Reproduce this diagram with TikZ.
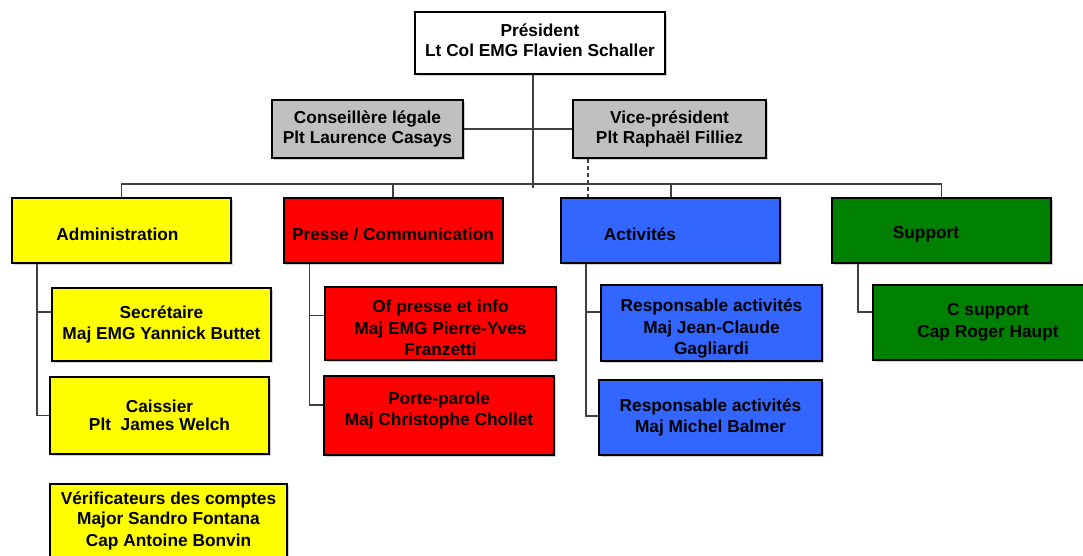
\documentclass[tikz,border=0pt]{standalone}
\usepackage{fontspec}
\setmainfont{Liberation Sans}
\usepackage{tikz}
\usetikzlibrary{shadows}

\definecolor{admincol}{HTML}{FFFF00}
\definecolor{pressecol}{HTML}{FF0000}
\definecolor{actcol}{HTML}{3366FF}
\definecolor{supportcol}{HTML}{008000}
\definecolor{staffcol}{HTML}{C0C0C0}

\begin{document}
\begin{tikzpicture}[x=1pt,y=-1pt,
                    font=\bfseries\fontsize{17.3}{21.5}\selectfont]
  \tikzstyle{post}=[draw=black,line width=2pt,align=center,inner sep=2pt,
                    drop shadow={shadow xshift=1.5pt,shadow yshift=-1.5pt,fill=black!35}]
  \tikzstyle{dept}=[post,minimum width=219,minimum height=65]
  \tikzstyle{link}=[draw=black!75,line width=1.2pt]

  \useasboundingbox (0,0) rectangle (1083,555);

  % comite
  \node[post,fill=white,minimum width=250,minimum height=62] (pres) at (540,43)
        {Président\\[-1.5pt]Lt Col EMG Flavien Schaller\rule[-6pt]{0pt}{0pt}};
  \node[post,fill=staffcol,minimum width=191,minimum height=58] (cons) at (367.5,129)
        {Conseillère légale\\[-1pt]Plt Laurence Casays};
  \node[post,fill=staffcol,minimum width=193,minimum height=58] (vice) at (669.5,129)
        {Vice-président\\[-1pt]Plt Raphaël Filliez};

  % departements
  \node[dept,fill=admincol,label={[xshift=-4pt,yshift=-3.5pt]center:Administration}]
        (admin) at (121.5,230.5) {};
  \node[dept,fill=pressecol,label={[yshift=-3.5pt]center:Presse / Communication}]
        (presse) at (393,230.5) {};
  \node[dept,fill=actcol,label={[xshift=-30.5pt,yshift=-3.5pt]center:Activités}]
        (act) at (670.5,230.5) {};
  \node[dept,fill=supportcol,label={[xshift=-15.5pt,yshift=-3.5pt]center:Support}]
        (support) at (941.5,230.5) {};

  % postes
  \node[post,fill=admincol,minimum width=219,minimum height=73] (secr) at (161.5,324.5)
        {Secrétaire\\Maj EMG Yannick Buttet};
  \node[post,fill=admincol,minimum width=219,minimum height=77] (caiss) at (159.5,415.5)
        {Caissier\\[-3pt]Plt~~James Welch};
  \node[post,fill=admincol,minimum width=237,minimum height=74] (verif) at (168.5,521)
        {Vérificateurs des comptes\\[-1.5pt]Major Sandro Fontana\\Cap Antoine Bonvin};
  \node[post,fill=pressecol,minimum width=231,minimum height=73] (ofpresse) at (440.5,323.5)
        {\rule{0pt}{22pt}Of presse et info\\Maj EMG Pierre-Yves\\Franzetti};
  \node[post,fill=pressecol,minimum width=230,minimum height=79] (porte) at (439,415.5)
        {Porte-parole\\Maj Christophe Chollet\rule[-13.5pt]{0pt}{0pt}};
  \node[post,fill=actcol,minimum width=221,minimum height=76] (resp1) at (711.5,323)
        {\rule{0pt}{24pt}Responsable activités\\Maj Jean-Claude\\Gagliardi};
  \node[post,fill=actcol,minimum width=223,minimum height=75] (resp2) at (710.5,417.5)
        {Responsable activités\\Maj Michel Balmer};
  \node[post,fill=supportcol,minimum width=230,minimum height=75] (csupport) at (988,322.5)
        {C support\\Cap Roger Haupt};

  % liens
  \draw[link] ([xshift=-7pt]pres.south) -- ++(0,113);
  \draw[link] (cons.east) -- (vice.west);
  \draw[link] (admin.north) -- ++(0,-13) -| (support.north);
  \draw[link] (presse.north) -- ++(0,-13);
  \draw[link] ([xshift=0.5pt]act.north) -- ++(0,-13);
  \draw[link,dash pattern=on 4pt off 3pt] ([xshift=-81.5pt]vice.south) -- ([xshift=-82.5pt]act.north);

  \draw[link] ([xshift=26pt]admin.south west) |- ([yshift=12.5pt]secr.west);
  \draw[link] ([xshift=26pt]admin.south west) |- (caiss.west);
  \draw[link] ([xshift=27pt]presse.south west) |- ([yshift=8pt]ofpresse.west);
  \draw[link] ([xshift=27pt]presse.south west) |- ([yshift=10.5pt]porte.west);
  \draw[link] ([xshift=26pt]act.south west) |- ([yshift=11pt]resp1.west);
  \draw[link] ([xshift=26pt]act.south west) |- ([yshift=1.5pt]resp2.west);
  \draw[link] ([xshift=27pt]support.south west) |- ([yshift=10.5pt]csupport.west);
\end{tikzpicture}
\end{document}
